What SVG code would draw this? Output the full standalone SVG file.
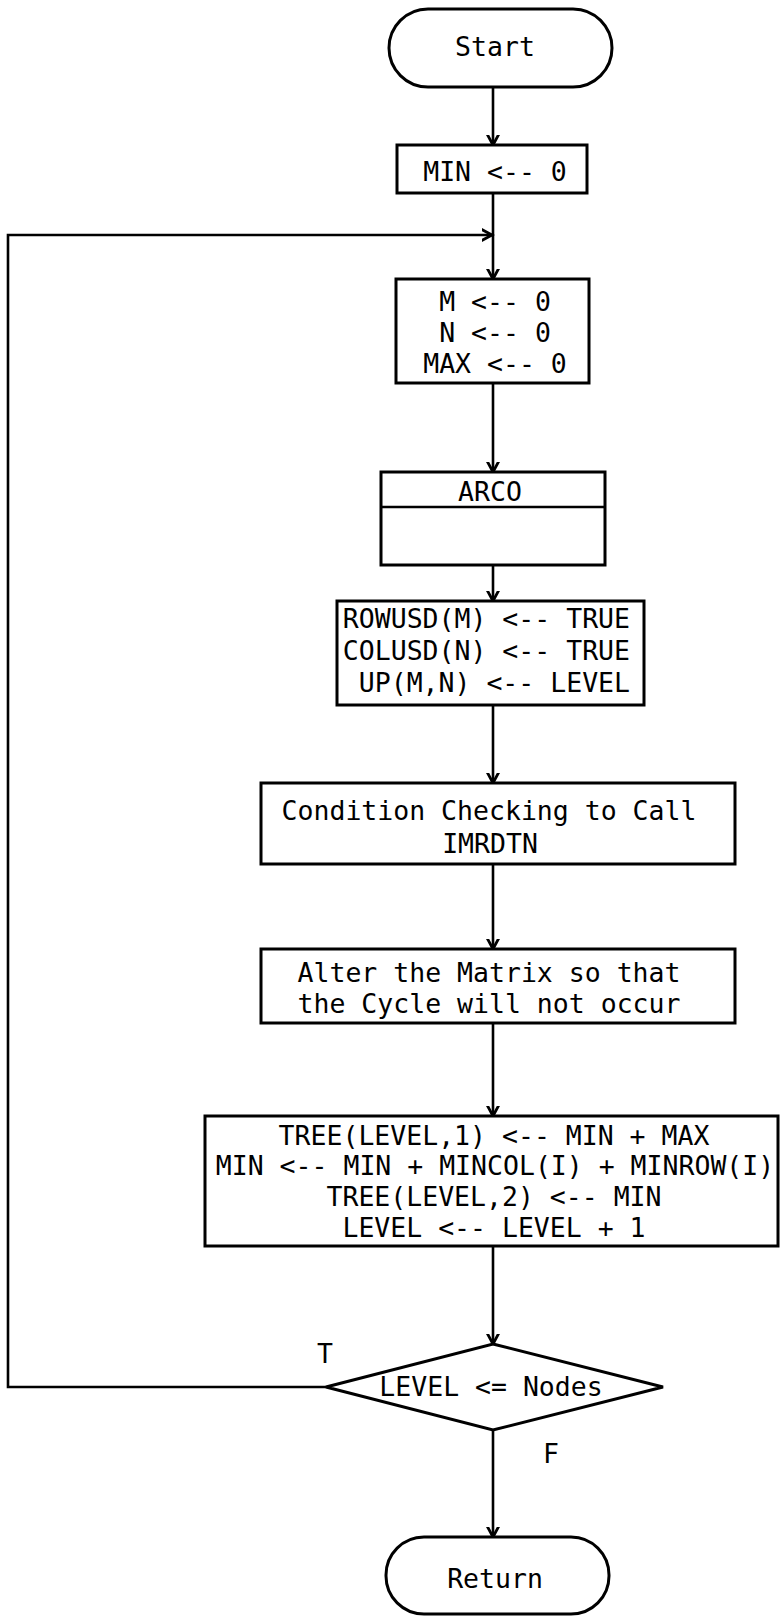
<svg xmlns="http://www.w3.org/2000/svg" width="780" height="1616" viewBox="0 0 780 1616">
  <style>
    .shape { fill: #ffffff; stroke: #000000; stroke-width: 3; }
    .wire { fill: none; stroke: #000000; stroke-width: 2.6; }
    .lbl { font-family: "DejaVu Sans Mono", "Liberation Mono", monospace; font-size: 26.5px; fill: #000000; text-anchor: middle; }
    .lbl-end { text-anchor: end; }
  </style>
  <defs>
    <marker id="head" viewBox="-10 -10 20 20" markerWidth="20" markerHeight="20" refX="0" refY="0" orient="auto" markerUnits="userSpaceOnUse">
      <path d="M -13,-7 L 0,0 L -13,7" fill="none" stroke="#000000" stroke-width="2.8" stroke-linejoin="miter"/>
    </marker>
  </defs>
  <rect width="780" height="1616" fill="#ffffff"/>

  <!-- connectors -->
  <g id="connectors">
    <line class="wire" x1="493" y1="87" x2="493" y2="145" marker-end="url(#head)"/>
    <line class="wire" x1="493" y1="193" x2="493" y2="279" marker-end="url(#head)"/>
    <line class="wire" x1="493" y1="383" x2="493" y2="472" marker-end="url(#head)"/>
    <line class="wire" x1="493" y1="565" x2="493" y2="601" marker-end="url(#head)"/>
    <line class="wire" x1="493" y1="705" x2="493" y2="783" marker-end="url(#head)"/>
    <line class="wire" x1="493" y1="864" x2="493" y2="949" marker-end="url(#head)"/>
    <line class="wire" x1="493" y1="1023" x2="493" y2="1116" marker-end="url(#head)"/>
    <line class="wire" x1="493" y1="1246" x2="493" y2="1344" marker-end="url(#head)"/>
    <line class="wire" x1="493" y1="1430" x2="493" y2="1537" marker-end="url(#head)"/>
    <!-- loop back (T branch) -->
    <polyline class="wire" points="326,1387 8,1387 8,235 492,235" marker-end="url(#head)"/>
    <text class="lbl" x="325" y="1363">T</text>
    <text class="lbl" x="551" y="1463">F</text>
  </g>

  <g id="start">
    <rect class="shape" x="389" y="9" width="223" height="78" rx="39" ry="39"/>
    <text class="lbl" x="495" y="56">Start</text>
  </g>

  <g id="init-min">
    <rect class="shape" x="397" y="145" width="190" height="48"/>
    <text class="lbl" x="495" y="181">MIN &lt;-- 0</text>
  </g>

  <g id="init-mn">
    <rect class="shape" x="396" y="279" width="193" height="104"/>
    <text class="lbl" x="495" y="311">M &lt;-- 0</text>
    <text class="lbl" x="495" y="342">N &lt;-- 0</text>
    <text class="lbl" x="495" y="373">MAX &lt;-- 0</text>
  </g>

  <g id="arco">
    <rect class="shape" x="381" y="472" width="224" height="93"/>
    <line class="wire" x1="381" y1="507" x2="605" y2="507" stroke-width="3"/>
    <text class="lbl" x="490" y="501">ARCO</text>
  </g>

  <g id="mark-used">
    <rect class="shape" x="337" y="601" width="307" height="104"/>
    <text class="lbl lbl-end" x="630" y="628">ROWUSD(M) &lt;-- TRUE</text>
    <text class="lbl lbl-end" x="630" y="660">COLUSD(N) &lt;-- TRUE</text>
    <text class="lbl lbl-end" x="630" y="692">UP(M,N) &lt;-- LEVEL</text>
  </g>

  <g id="condition-check">
    <rect class="shape" x="261" y="783" width="474" height="81"/>
    <text class="lbl" x="489" y="820">Condition Checking to Call</text>
    <text class="lbl" x="490" y="853">IMRDTN</text>
  </g>

  <g id="alter-matrix">
    <rect class="shape" x="261" y="949" width="474" height="74"/>
    <text class="lbl" x="489" y="982">Alter the Matrix so that</text>
    <text class="lbl" x="489" y="1013">the Cycle will not occur</text>
  </g>

  <g id="update-tree">
    <rect class="shape" x="205" y="1116" width="573" height="130"/>
    <text class="lbl" x="494" y="1145">TREE(LEVEL,1) &lt;-- MIN + MAX</text>
    <text class="lbl" x="495" y="1175">MIN &lt;-- MIN + MINCOL(I) + MINROW(I)</text>
    <text class="lbl" x="494" y="1206">TREE(LEVEL,2) &lt;-- MIN</text>
    <text class="lbl" x="494" y="1237">LEVEL &lt;-- LEVEL + 1</text>
  </g>

  <g id="level-test">
    <polygon class="shape" points="493,1344 663,1387 493,1430 326,1387"/>
    <text class="lbl" x="491" y="1396">LEVEL &lt;= Nodes</text>
  </g>

  <g id="return">
    <rect class="shape" x="386" y="1537" width="223" height="77" rx="38" ry="38"/>
    <text class="lbl" x="495" y="1588">Return</text>
  </g>
</svg>
